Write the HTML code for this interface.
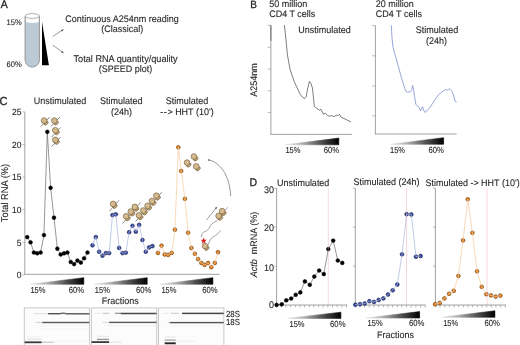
<!DOCTYPE html>
<html><head><meta charset="utf-8"><style>
html,body{margin:0;padding:0;background:#fff;width:520px;height:345px;overflow:hidden}
svg{display:block;filter:blur(0.25px)}
text{text-rendering:geometricPrecision;font-family:"Liberation Sans",sans-serif;fill:#262626;stroke:#262626;stroke-width:0.1px;stroke-linejoin:round}
</style></head><body>
<svg width="520" height="345" viewBox="0 0 520 345">
<defs><linearGradient id="g1" x1="0" y1="0" x2="1" y2="0">
<stop offset="0" stop-color="#e4e4e4"/><stop offset="0.3" stop-color="#b4b4b4"/><stop offset="0.65" stop-color="#555"/><stop offset="1" stop-color="#000"/></linearGradient></defs>
<rect width="520" height="345" fill="#fff"/>
<g transform="translate(0.8 7.7) scale(0.9434 1)"><text x="0" y="0" font-size="11.13" text-anchor="start" style="stroke-width:0.3px">A</text></g>
<g transform="translate(21.8 24.8) scale(0.9434 1)"><text x="0" y="0" font-size="8.06" text-anchor="end" fill="#333">15%</text></g>
<g transform="translate(21.8 67.0) scale(0.9434 1)"><text x="0" y="0" font-size="8.06" text-anchor="end" fill="#333">60%</text></g>
<path d="M25.2,16.2 L25.2,59.7 A7.1,7.3 0 0 0 39.4,59.7 L39.4,16.2" fill="#fff" stroke="#8c8c8c" stroke-width="0.7"/>
<path d="M25.5,22.0 Q32.3,24.2 39.1,22.0 L39.1,59.7 A6.8,7.0 0 0 1 25.5,59.7 Z" fill="#bccad5"/>
<path d="M25.2,16.2 L25.2,59.7 A7.1,7.3 0 0 0 39.4,59.7 L39.4,16.2" fill="none" stroke="#8c8c8c" stroke-width="0.7"/>
<ellipse cx="32.3" cy="16.0" rx="7.1" ry="2.4" fill="#fff" stroke="#8c8c8c" stroke-width="0.7"/>
<polygon points="42.0,21.8 42.0,65.3 48.9,65.3" fill="#000"/>
<line x1="52.7" y1="36.5" x2="63" y2="29.8" stroke="#555" stroke-width="0.6" />
<line x1="52.7" y1="45" x2="63" y2="52.5" stroke="#555" stroke-width="0.6" />
<polygon points="64.0,29.2 61.0,29.9 62.1,31.6" fill="#555"/>
<polygon points="64.0,53.1 62.1,50.9 61.0,52.6" fill="#555"/>
<g transform="translate(122.1 21.9) scale(0.9434 1)"><text x="0" y="0" font-size="9.54" text-anchor="middle" >Continuous A254nm reading</text></g>
<g transform="translate(122.2 32.1) scale(0.9434 1)"><text x="0" y="0" font-size="9.54" text-anchor="middle" >(Classical)</text></g>
<g transform="translate(125.6 61.9) scale(0.9434 1)"><text x="0" y="0" font-size="9.70" text-anchor="middle" >Total RNA quantity/quality</text></g>
<g transform="translate(125.6 72.3) scale(0.9434 1)"><text x="0" y="0" font-size="9.54" text-anchor="middle" >(SPEED plot)</text></g>
<g transform="translate(250.3 7.7) scale(0.9434 1)"><text x="0" y="0" font-size="10.60" text-anchor="start" style="stroke-width:0.3px">B</text></g>
<g transform="translate(269.2 6.7) scale(0.9434 1)"><text x="0" y="0" font-size="9.54" text-anchor="start" >50 million</text></g>
<g transform="translate(269.2 17.3) scale(0.9434 1)"><text x="0" y="0" font-size="9.54" text-anchor="start" >CD4 T cells</text></g>
<g transform="translate(375.8 6.7) scale(0.9434 1)"><text x="0" y="0" font-size="9.54" text-anchor="start" >20 million</text></g>
<g transform="translate(375.8 17.3) scale(0.9434 1)"><text x="0" y="0" font-size="9.54" text-anchor="start" >CD4 T cells</text></g>
<line x1="270.9" y1="25.2" x2="270.9" y2="134.4" stroke="#8a8a8a" stroke-width="0.8" />
<rect x="270.1" y="25.6" width="1.4" height="15.3" fill="#888"/>
<line x1="270.5" y1="134.4" x2="352" y2="134.4" stroke="#8a8a8a" stroke-width="0.8" />
<line x1="267.6" y1="25.3" x2="270.9" y2="25.3" stroke="#8a8a8a" stroke-width="0.6" />
<line x1="267.6" y1="47.2" x2="270.9" y2="47.2" stroke="#8a8a8a" stroke-width="0.6" />
<line x1="267.6" y1="69.0" x2="270.9" y2="69.0" stroke="#8a8a8a" stroke-width="0.6" />
<line x1="267.6" y1="90.8" x2="270.9" y2="90.8" stroke="#8a8a8a" stroke-width="0.6" />
<line x1="267.6" y1="112.4" x2="270.9" y2="112.4" stroke="#8a8a8a" stroke-width="0.6" />
<g transform="rotate(-90 257.4 80.1)"><g transform="translate(257.4 80.1) scale(0.9434 1)"><text x="0" y="0" font-size="9.54" text-anchor="middle" >A254nm</text></g></g>
<g transform="translate(298.3 32.8) scale(0.9434 1)"><text x="0" y="0" font-size="9.54" text-anchor="start" >Unstimulated</text></g>
<polyline points="284.4,25 286.0,40 287.4,54.8 290.2,69.9 294.2,81.5 296.5,86.5 300.3,94.6 302.5,97.2 304.6,98.5 306.2,96.5 307.8,88 309.4,81.3 311,83.5 312.4,88 313.4,97 314.3,106.3 317,108.6 319.6,110.2 320.9,109.2 322.2,111.8 323.5,114.1 325.4,113.5 327.5,115.5 329.3,116.1 331.8,115.7 333.5,116.5 334.8,116.1 336.9,115 338,115.6 339.3,114.3 340.9,117.1 345,119 348,120.5 351,121.8" fill="none" stroke="#444" stroke-width="0.7" stroke-linejoin="round"/>
<polygon points="285.4,144.8 338.8,138.1 338.8,144.8" fill="url(#g1)" stroke="url(#g1)" stroke-width="0.6" stroke-linejoin="round"/>
<text x="285.40000000000003" y="152.70000000000002" font-size="8.8" textLength="15.0" lengthAdjust="spacingAndGlyphs">15%</text>
<text x="323.8" y="152.70000000000002" font-size="8.8" textLength="15.4" lengthAdjust="spacingAndGlyphs">60%</text>
<line x1="375.4" y1="25.5" x2="375.4" y2="134.0" stroke="#8a8a8a" stroke-width="0.8" />
<line x1="375.0" y1="134.0" x2="456.6" y2="134.0" stroke="#8a8a8a" stroke-width="0.8" />
<line x1="372.2" y1="25.6" x2="375.4" y2="25.6" stroke="#8a8a8a" stroke-width="0.6" />
<line x1="372.2" y1="55.8" x2="375.4" y2="55.8" stroke="#8a8a8a" stroke-width="0.6" />
<line x1="372.2" y1="86.0" x2="375.4" y2="86.0" stroke="#8a8a8a" stroke-width="0.6" />
<line x1="372.2" y1="115.8" x2="375.4" y2="115.8" stroke="#8a8a8a" stroke-width="0.6" />
<g transform="translate(415.7 33.0) scale(0.9434 1)"><text x="0" y="0" font-size="9.54" text-anchor="start" >Stimulated</text></g>
<g transform="translate(436.6 44.0) scale(0.9434 1)"><text x="0" y="0" font-size="9.54" text-anchor="middle" >(24h)</text></g>
<polyline points="391.3,25.3 392.0,38 393.0,47.1 394.6,53.5 396.2,58.3 398.5,67 400.9,75.8 403.2,83.5 405.7,91.2 407.5,92.2 410.5,91.7 411.8,89.5 412.7,85.4 413.5,89 414.3,94.9 415.9,104.5 417.5,106 419.1,107.7 420.7,110.9 421.6,108 422.6,106.7 423.6,110 424.8,112.4 427,110.8 429.6,107.7 432.5,103.5 436,98.1 438.5,95 440.8,92.7 443,91.2 445.6,89.5 447.5,90.2 448.8,88.8 450.3,89.5 452,91.5 453.5,94.9 455.1,101.3 456.7,102.2" fill="none" stroke="#6f7fc8" stroke-width="0.7" stroke-linejoin="round"/>
<polygon points="390.9,144.3 443.6,137.7 443.6,144.3" fill="url(#g1)" stroke="url(#g1)" stroke-width="0.6" stroke-linejoin="round"/>
<text x="390.0" y="152.60000000000002" font-size="8.8" textLength="15.0" lengthAdjust="spacingAndGlyphs">15%</text>
<text x="428.5" y="152.60000000000002" font-size="8.8" textLength="15.4" lengthAdjust="spacingAndGlyphs">60%</text>
<g transform="translate(-0.5 104.5) scale(0.9434 1)"><text x="0" y="0" font-size="11.66" text-anchor="start" style="stroke-width:0.3px">C</text></g>
<g transform="translate(60.0 104.1) scale(0.9434 1)"><text x="0" y="0" font-size="9.54" text-anchor="middle" >Unstimulated</text></g>
<g transform="translate(121.3 104.4) scale(0.9434 1)"><text x="0" y="0" font-size="9.54" text-anchor="middle" >Stimulated</text></g>
<g transform="translate(121.6 114.5) scale(0.9434 1)"><text x="0" y="0" font-size="9.54" text-anchor="middle" >(24h)</text></g>
<g transform="translate(187.0 104.4) scale(0.9434 1)"><text x="0" y="0" font-size="9.54" text-anchor="middle" >Stimulated</text></g>
<g transform="translate(187.0 114.5) scale(0.9434 1)"><text x="0" y="0" font-size="9.54" text-anchor="middle" ><tspan letter-spacing="0.55">--</tspan>&gt; HHT (10')</text></g>
<line x1="24.8" y1="111.9" x2="24.8" y2="274.3" stroke="#8a8a8a" stroke-width="0.8" />
<line x1="24.4" y1="274.3" x2="219.5" y2="274.3" stroke="#8a8a8a" stroke-width="0.8" />
<line x1="22.6" y1="274.9" x2="24.8" y2="274.9" stroke="#8a8a8a" stroke-width="0.6" />
<g transform="translate(21.4 278.09999999999997) scale(0.9434 1)"><text x="0" y="0" font-size="9.01" text-anchor="end" >0</text></g>
<line x1="22.6" y1="242.29999999999998" x2="24.8" y2="242.29999999999998" stroke="#8a8a8a" stroke-width="0.6" />
<g transform="translate(21.4 245.49999999999997) scale(0.9434 1)"><text x="0" y="0" font-size="9.01" text-anchor="end" >5</text></g>
<line x1="22.6" y1="209.7" x2="24.8" y2="209.7" stroke="#8a8a8a" stroke-width="0.6" />
<g transform="translate(21.4 212.89999999999998) scale(0.9434 1)"><text x="0" y="0" font-size="9.01" text-anchor="end" >10</text></g>
<line x1="22.6" y1="177.09999999999997" x2="24.8" y2="177.09999999999997" stroke="#8a8a8a" stroke-width="0.6" />
<g transform="translate(21.4 180.29999999999995) scale(0.9434 1)"><text x="0" y="0" font-size="9.01" text-anchor="end" >15</text></g>
<line x1="22.6" y1="144.49999999999997" x2="24.8" y2="144.49999999999997" stroke="#8a8a8a" stroke-width="0.6" />
<g transform="translate(21.4 147.69999999999996) scale(0.9434 1)"><text x="0" y="0" font-size="9.01" text-anchor="end" >20</text></g>
<line x1="22.6" y1="111.89999999999998" x2="24.8" y2="111.89999999999998" stroke="#8a8a8a" stroke-width="0.6" />
<g transform="translate(21.4 115.09999999999998) scale(0.9434 1)"><text x="0" y="0" font-size="9.01" text-anchor="end" >25</text></g>
<g transform="rotate(-90 8.0 193.0)"><g transform="translate(8.0 193.0) scale(0.9434 1)"><text x="0" y="0" font-size="9.86" text-anchor="middle" >Total RNA (%)</text></g></g>
<polyline points="27.20,237.10 30.55,242.30 33.90,252.50 37.25,253.30 40.60,252.50 43.95,235.10 47.30,131.80 50.65,187.80 54.00,217.70 57.35,248.70 60.70,254.50 64.05,253.30 67.40,252.50 70.75,262.00 74.10,264.10 77.45,260.60 80.80,262.60 84.15,258.30 87.50,252.50" fill="none" stroke="#6a6a6a" stroke-width="0.7"/>
<circle cx="27.20" cy="237.10" r="1.85" fill="#000" stroke="#000" stroke-width="0.6"/>
<circle cx="30.55" cy="242.30" r="1.85" fill="#000" stroke="#000" stroke-width="0.6"/>
<circle cx="33.90" cy="252.50" r="1.85" fill="#000" stroke="#000" stroke-width="0.6"/>
<circle cx="37.25" cy="253.30" r="1.85" fill="#000" stroke="#000" stroke-width="0.6"/>
<circle cx="40.60" cy="252.50" r="1.85" fill="#000" stroke="#000" stroke-width="0.6"/>
<circle cx="43.95" cy="235.10" r="1.85" fill="#000" stroke="#000" stroke-width="0.6"/>
<circle cx="47.30" cy="131.80" r="1.85" fill="#000" stroke="#000" stroke-width="0.6"/>
<circle cx="50.65" cy="187.80" r="1.85" fill="#000" stroke="#000" stroke-width="0.6"/>
<circle cx="54.00" cy="217.70" r="1.85" fill="#000" stroke="#000" stroke-width="0.6"/>
<circle cx="57.35" cy="248.70" r="1.85" fill="#000" stroke="#000" stroke-width="0.6"/>
<circle cx="60.70" cy="254.50" r="1.85" fill="#000" stroke="#000" stroke-width="0.6"/>
<circle cx="64.05" cy="253.30" r="1.85" fill="#000" stroke="#000" stroke-width="0.6"/>
<circle cx="67.40" cy="252.50" r="1.85" fill="#000" stroke="#000" stroke-width="0.6"/>
<circle cx="70.75" cy="262.00" r="1.85" fill="#000" stroke="#000" stroke-width="0.6"/>
<circle cx="74.10" cy="264.10" r="1.85" fill="#000" stroke="#000" stroke-width="0.6"/>
<circle cx="77.45" cy="260.60" r="1.85" fill="#000" stroke="#000" stroke-width="0.6"/>
<circle cx="80.80" cy="262.60" r="1.85" fill="#000" stroke="#000" stroke-width="0.6"/>
<circle cx="84.15" cy="258.30" r="1.85" fill="#000" stroke="#000" stroke-width="0.6"/>
<circle cx="87.50" cy="252.50" r="1.85" fill="#000" stroke="#000" stroke-width="0.6"/>
<circle cx="92.50" cy="245.30" r="1.9" fill="#3a4a9c" stroke="#1a2256" stroke-width="0.6"/>
<circle cx="95.83" cy="237.10" r="1.9" fill="#3a4a9c" stroke="#1a2256" stroke-width="0.6"/>
<circle cx="99.16" cy="251.70" r="1.9" fill="#3a4a9c" stroke="#1a2256" stroke-width="0.6"/>
<circle cx="102.49" cy="255.70" r="1.9" fill="#3a4a9c" stroke="#1a2256" stroke-width="0.6"/>
<circle cx="105.82" cy="253.10" r="1.9" fill="#3a4a9c" stroke="#1a2256" stroke-width="0.6"/>
<circle cx="109.15" cy="253.10" r="1.9" fill="#3a4a9c" stroke="#1a2256" stroke-width="0.6"/>
<circle cx="112.48" cy="215.10" r="1.9" fill="#3a4a9c" stroke="#1a2256" stroke-width="0.6"/>
<circle cx="115.81" cy="214.30" r="1.9" fill="#3a4a9c" stroke="#1a2256" stroke-width="0.6"/>
<circle cx="119.14" cy="247.90" r="1.9" fill="#3a4a9c" stroke="#1a2256" stroke-width="0.6"/>
<circle cx="122.47" cy="253.10" r="1.9" fill="#3a4a9c" stroke="#1a2256" stroke-width="0.6"/>
<circle cx="125.80" cy="252.60" r="1.9" fill="#3a4a9c" stroke="#1a2256" stroke-width="0.6"/>
<circle cx="129.13" cy="232.20" r="1.9" fill="#3a4a9c" stroke="#1a2256" stroke-width="0.6"/>
<circle cx="132.46" cy="225.80" r="1.9" fill="#3a4a9c" stroke="#1a2256" stroke-width="0.6"/>
<circle cx="135.79" cy="231.70" r="1.9" fill="#3a4a9c" stroke="#1a2256" stroke-width="0.6"/>
<circle cx="139.12" cy="224.90" r="1.9" fill="#3a4a9c" stroke="#1a2256" stroke-width="0.6"/>
<circle cx="142.45" cy="240.00" r="1.9" fill="#3a4a9c" stroke="#1a2256" stroke-width="0.6"/>
<circle cx="145.78" cy="251.70" r="1.9" fill="#3a4a9c" stroke="#1a2256" stroke-width="0.6"/>
<circle cx="149.11" cy="247.40" r="1.9" fill="#3a4a9c" stroke="#1a2256" stroke-width="0.6"/>
<circle cx="152.44" cy="246.10" r="1.9" fill="#3a4a9c" stroke="#1a2256" stroke-width="0.6"/>
<polyline points="92.50,245.30 95.83,237.10 99.16,251.70 102.49,255.70 105.82,253.10 109.15,253.10 112.48,215.10 115.81,214.30 119.14,247.90 122.47,253.10 125.80,252.60 129.13,232.20 132.46,225.80 135.79,231.70 139.12,224.90 142.45,240.00 145.78,251.70 149.11,247.40 152.44,246.10" fill="none" stroke="#a9b6e0" stroke-width="0.7"/>
<circle cx="158.00" cy="252.90" r="1.9" fill="#e2801e" stroke="#6e4212" stroke-width="0.6"/>
<circle cx="161.50" cy="245.70" r="1.9" fill="#e2801e" stroke="#6e4212" stroke-width="0.6"/>
<circle cx="164.70" cy="254.50" r="1.9" fill="#e2801e" stroke="#6e4212" stroke-width="0.6"/>
<circle cx="168.20" cy="254.90" r="1.9" fill="#e2801e" stroke="#6e4212" stroke-width="0.6"/>
<circle cx="171.70" cy="252.90" r="1.9" fill="#e2801e" stroke="#6e4212" stroke-width="0.6"/>
<circle cx="174.90" cy="229.70" r="1.9" fill="#e2801e" stroke="#6e4212" stroke-width="0.6"/>
<circle cx="178.30" cy="147.30" r="1.9" fill="#e2801e" stroke="#6e4212" stroke-width="0.6"/>
<circle cx="181.20" cy="171.00" r="1.9" fill="#e2801e" stroke="#6e4212" stroke-width="0.6"/>
<circle cx="184.90" cy="198.80" r="1.9" fill="#e2801e" stroke="#6e4212" stroke-width="0.6"/>
<circle cx="188.10" cy="232.70" r="1.9" fill="#e2801e" stroke="#6e4212" stroke-width="0.6"/>
<circle cx="191.40" cy="248.00" r="1.9" fill="#e2801e" stroke="#6e4212" stroke-width="0.6"/>
<circle cx="194.90" cy="253.80" r="1.9" fill="#e2801e" stroke="#6e4212" stroke-width="0.6"/>
<circle cx="198.10" cy="259.10" r="1.9" fill="#e2801e" stroke="#6e4212" stroke-width="0.6"/>
<circle cx="201.40" cy="263.00" r="1.9" fill="#e2801e" stroke="#6e4212" stroke-width="0.6"/>
<circle cx="204.60" cy="264.90" r="1.9" fill="#e2801e" stroke="#6e4212" stroke-width="0.6"/>
<circle cx="208.10" cy="263.00" r="1.9" fill="#e2801e" stroke="#6e4212" stroke-width="0.6"/>
<circle cx="211.30" cy="267.20" r="1.9" fill="#e2801e" stroke="#6e4212" stroke-width="0.6"/>
<circle cx="214.80" cy="263.00" r="1.9" fill="#e2801e" stroke="#6e4212" stroke-width="0.6"/>
<circle cx="218.00" cy="252.20" r="1.9" fill="#e2801e" stroke="#6e4212" stroke-width="0.6"/>
<polyline points="158.00,252.90 161.50,245.70 164.70,254.50 168.20,254.90 171.70,252.90 174.90,229.70 178.30,147.30 181.20,171.00 184.90,198.80 188.10,232.70 191.40,248.00 194.90,253.80 198.10,259.10 201.40,263.00 204.60,264.90 208.10,263.00 211.30,267.20 214.80,263.00 218.00,252.20" fill="none" stroke="#f6c89c" stroke-width="0.7"/>
<polygon points="30.3,284.3 83.8,277.7 83.8,284.3" fill="url(#g1)" stroke="url(#g1)" stroke-width="0.6" stroke-linejoin="round"/>
<text x="30.400000000000002" y="292.5" font-size="8.8" textLength="15.0" lengthAdjust="spacingAndGlyphs">15%</text>
<text x="68.8" y="292.5" font-size="8.8" textLength="15.4" lengthAdjust="spacingAndGlyphs">60%</text>
<polygon points="94.1,284.3 147.2,277.7 147.2,284.3" fill="url(#g1)" stroke="url(#g1)" stroke-width="0.6" stroke-linejoin="round"/>
<text x="94.8" y="292.5" font-size="8.8" textLength="15.0" lengthAdjust="spacingAndGlyphs">15%</text>
<text x="135.9" y="292.5" font-size="8.8" textLength="15.4" lengthAdjust="spacingAndGlyphs">60%</text>
<polygon points="159.7,284.3 212.9,277.7 212.9,284.3" fill="url(#g1)" stroke="url(#g1)" stroke-width="0.6" stroke-linejoin="round"/>
<text x="161.4" y="292.5" font-size="8.8" textLength="15.0" lengthAdjust="spacingAndGlyphs">15%</text>
<text x="202.2" y="292.5" font-size="8.8" textLength="15.4" lengthAdjust="spacingAndGlyphs">60%</text>
<g transform="translate(120.3 303.6) scale(0.9434 1)"><text x="0" y="0" font-size="9.54" text-anchor="middle" >Fractions</text></g>
<line x1="40.6" y1="126.7" x2="49.7" y2="117.1" stroke="#3c3c3c" stroke-width="0.6" />
<line x1="50.8" y1="126.7" x2="59.9" y2="117.1" stroke="#3c3c3c" stroke-width="0.6" />
<line x1="51.6" y1="137.0" x2="60.7" y2="127.4" stroke="#3c3c3c" stroke-width="0.6" />
<line x1="51.6" y1="146.6" x2="60.7" y2="137.0" stroke="#3c3c3c" stroke-width="0.6" />
<ellipse cx="46.00" cy="123.00" rx="2.5" ry="1.6" transform="rotate(-38 46.00 123.00)" fill="#c9ab7a" stroke="#6a5636" stroke-width="0.6"/>
<circle cx="44.10" cy="120.60" r="2.85" fill="#d4ba8c" stroke="#6a5636" stroke-width="0.6"/>
<ellipse cx="56.20" cy="123.00" rx="2.5" ry="1.6" transform="rotate(-38 56.20 123.00)" fill="#c9ab7a" stroke="#6a5636" stroke-width="0.6"/>
<circle cx="54.30" cy="120.60" r="2.85" fill="#d4ba8c" stroke="#6a5636" stroke-width="0.6"/>
<ellipse cx="57.20" cy="132.70" rx="2.5" ry="1.6" transform="rotate(-38 57.20 132.70)" fill="#c9ab7a" stroke="#6a5636" stroke-width="0.6"/>
<circle cx="55.30" cy="130.30" r="2.85" fill="#d4ba8c" stroke="#6a5636" stroke-width="0.6"/>
<ellipse cx="57.20" cy="142.30" rx="2.5" ry="1.6" transform="rotate(-38 57.20 142.30)" fill="#c9ab7a" stroke="#6a5636" stroke-width="0.6"/>
<circle cx="55.30" cy="139.90" r="2.85" fill="#d4ba8c" stroke="#6a5636" stroke-width="0.6"/>
<line x1="109.4" y1="211.2" x2="118.9" y2="200.3" stroke="#3c3c3c" stroke-width="0.6" />
<ellipse cx="115.00" cy="206.30" rx="2.5" ry="1.6" transform="rotate(-38 115.00 206.30)" fill="#c9ab7a" stroke="#6a5636" stroke-width="0.6"/>
<circle cx="113.10" cy="203.90" r="2.85" fill="#d4ba8c" stroke="#6a5636" stroke-width="0.6"/>
<line x1="122.5" y1="223.5" x2="140.6" y2="202.5" stroke="#3c3c3c" stroke-width="0.6" />
<ellipse cx="128.00" cy="218.70" rx="2.5" ry="1.6" transform="rotate(-38 128.00 218.70)" fill="#c9ab7a" stroke="#6a5636" stroke-width="0.6"/>
<circle cx="126.10" cy="216.30" r="2.85" fill="#d4ba8c" stroke="#6a5636" stroke-width="0.6"/>
<ellipse cx="132.70" cy="214.00" rx="2.5" ry="1.6" transform="rotate(-38 132.70 214.00)" fill="#c9ab7a" stroke="#6a5636" stroke-width="0.6"/>
<circle cx="130.80" cy="211.60" r="2.85" fill="#d4ba8c" stroke="#6a5636" stroke-width="0.6"/>
<ellipse cx="136.70" cy="209.30" rx="2.5" ry="1.6" transform="rotate(-38 136.70 209.30)" fill="#c9ab7a" stroke="#6a5636" stroke-width="0.6"/>
<circle cx="134.80" cy="206.90" r="2.85" fill="#d4ba8c" stroke="#6a5636" stroke-width="0.6"/>
<line x1="135.6" y1="221.4" x2="161.7" y2="192.3" stroke="#3c3c3c" stroke-width="0.6" />
<ellipse cx="140.80" cy="217.70" rx="2.5" ry="1.6" transform="rotate(-38 140.80 217.70)" fill="#c9ab7a" stroke="#6a5636" stroke-width="0.6"/>
<circle cx="138.90" cy="215.30" r="2.85" fill="#d4ba8c" stroke="#6a5636" stroke-width="0.6"/>
<ellipse cx="145.20" cy="212.90" rx="2.5" ry="1.6" transform="rotate(-38 145.20 212.90)" fill="#c9ab7a" stroke="#6a5636" stroke-width="0.6"/>
<circle cx="143.30" cy="210.50" r="2.85" fill="#d4ba8c" stroke="#6a5636" stroke-width="0.6"/>
<ellipse cx="149.50" cy="208.20" rx="2.5" ry="1.6" transform="rotate(-38 149.50 208.20)" fill="#c9ab7a" stroke="#6a5636" stroke-width="0.6"/>
<circle cx="147.60" cy="205.80" r="2.85" fill="#d4ba8c" stroke="#6a5636" stroke-width="0.6"/>
<ellipse cx="153.90" cy="203.40" rx="2.5" ry="1.6" transform="rotate(-38 153.90 203.40)" fill="#c9ab7a" stroke="#6a5636" stroke-width="0.6"/>
<circle cx="152.00" cy="201.00" r="2.85" fill="#d4ba8c" stroke="#6a5636" stroke-width="0.6"/>
<ellipse cx="158.20" cy="198.10" rx="2.5" ry="1.6" transform="rotate(-38 158.20 198.10)" fill="#c9ab7a" stroke="#6a5636" stroke-width="0.6"/>
<circle cx="156.30" cy="195.70" r="2.85" fill="#d4ba8c" stroke="#6a5636" stroke-width="0.6"/>
<ellipse cx="195.80" cy="158.90" rx="2.5" ry="1.6" transform="rotate(-38 195.80 158.90)" fill="#c9ab7a" stroke="#6a5636" stroke-width="0.6"/>
<circle cx="193.90" cy="156.50" r="2.85" fill="#d4ba8c" stroke="#6a5636" stroke-width="0.6"/>
<ellipse cx="188.90" cy="165.00" rx="2.5" ry="1.6" transform="rotate(-38 188.90 165.00)" fill="#c9ab7a" stroke="#6a5636" stroke-width="0.6"/>
<circle cx="187.00" cy="162.60" r="2.85" fill="#d4ba8c" stroke="#6a5636" stroke-width="0.6"/>
<ellipse cx="198.10" cy="168.80" rx="2.5" ry="1.6" transform="rotate(-38 198.10 168.80)" fill="#c9ab7a" stroke="#6a5636" stroke-width="0.6"/>
<circle cx="196.20" cy="166.40" r="2.85" fill="#d4ba8c" stroke="#6a5636" stroke-width="0.6"/>
<path d="M208.9,160 C220,162 230,176 230.6,196" fill="none" stroke="#555" stroke-width="0.6"/>
<circle cx="208.9" cy="160" r="0.8" fill="#333"/>
<line x1="206.5" y1="219.9" x2="216.5" y2="207.6" stroke="#555" stroke-width="0.6" />
<polygon points="217.2,206.8 214.6,208.0 216.3,209.3" fill="#555"/>
<line x1="217.3" y1="220" x2="227.7" y2="207.2" stroke="#555" stroke-width="0.5" />
<ellipse cx="220.50" cy="218.30" rx="2.5" ry="1.6" transform="rotate(-38 220.50 218.30)" fill="#c9ab7a" stroke="#6a5636" stroke-width="0.6"/>
<circle cx="218.60" cy="215.90" r="2.85" fill="#d4ba8c" stroke="#6a5636" stroke-width="0.6"/>
<ellipse cx="224.00" cy="213.60" rx="2.5" ry="1.6" transform="rotate(-38 224.00 213.60)" fill="#c9ab7a" stroke="#6a5636" stroke-width="0.6"/>
<circle cx="222.10" cy="211.20" r="2.85" fill="#d4ba8c" stroke="#6a5636" stroke-width="0.6"/>
<path d="M201.2,237.2 C201.4,233.6 203,232.2 205,231.6 C207.8,230.9 208.9,228.4 210.4,225.8 C212,223.2 214,222.4 217.3,220.6" fill="none" stroke="#555" stroke-width="0.55"/>
<path d="M208.2,245.2 C209,242.2 210.5,239.2 212,237.6 C213.6,236 215.4,236.1 217,234.6 C218.6,233.1 219.2,232.2 220.6,230.4" fill="none" stroke="#555" stroke-width="0.55"/>
<ellipse cx="206.90" cy="248.40" rx="2.5" ry="1.6" transform="rotate(-38 206.90 248.40)" fill="#c9ab7a" stroke="#6a5636" stroke-width="0.6"/>
<circle cx="205.00" cy="246.00" r="2.85" fill="#d4ba8c" stroke="#6a5636" stroke-width="0.6"/>
<polygon points="203.70,237.60 204.52,239.67 206.74,239.81 205.03,241.23 205.58,243.39 203.70,242.20 201.82,243.39 202.37,241.23 200.66,239.81 202.88,239.67" fill="#dc1c1c"/>
<rect x="24.3" y="307.9" width="65.3" height="40" fill="#fcfcfc" stroke="#c4c4c4" stroke-width="0.9"/>
<rect x="91.4" y="307.9" width="65.4" height="40" fill="#fcfcfc" stroke="#c4c4c4" stroke-width="0.9"/>
<rect x="158.4" y="307.9" width="65.5" height="40" fill="#fcfcfc" stroke="#c4c4c4" stroke-width="0.9"/>
<rect x="33.6" y="313.20" width="14.50" height="1.0" fill="#dcdcdc"/>
<rect x="48.1" y="313.00" width="12.70" height="1.4" fill="#505050"/>
<rect x="60.8" y="312.55" width="4.60" height="1.5" fill="#6a6a6a"/>
<rect x="65.4" y="313.10" width="24.00" height="1.4" fill="#555"/>
<rect x="35.9" y="321.90" width="6.40" height="1.0" fill="#cfcfcf"/>
<rect x="42.3" y="321.80" width="47.10" height="1.4" fill="#585858"/>
<rect x="38" y="325.50" width="51.40" height="0.8" fill="#f0f0f0"/>
<rect x="40" y="328.90" width="49.40" height="0.8" fill="#f3f3f3"/>
<rect x="26.6" y="336.45" width="15.10" height="0.9" fill="#eeeeee"/>
<rect x="26.6" y="338.75" width="15.10" height="0.9" fill="#dddddd"/>
<rect x="24.6" y="341.40" width="17.10" height="1.8" fill="#3c3c3c"/>
<rect x="41.7" y="341.70" width="12.20" height="1.2" fill="#c8c8c8"/>
<rect x="53.9" y="340.80" width="35.50" height="0.8" fill="#efefef"/>
<rect x="94.6" y="312.85" width="7.00" height="0.9" fill="#e6e6e6"/>
<rect x="102.8" y="312.75" width="6.30" height="1.1" fill="#c4c4c4"/>
<rect x="114.9" y="312.70" width="5.80" height="1.2" fill="#8e8e8e"/>
<rect x="120.7" y="312.75" width="35.90" height="1.5" fill="#484848"/>
<rect x="102.8" y="321.90" width="5.80" height="1.0" fill="#d8d8d8"/>
<rect x="109.1" y="321.70" width="47.50" height="1.4" fill="#5a5a5a"/>
<rect x="104" y="325.20" width="52.60" height="0.8" fill="#eeeeee"/>
<rect x="97" y="335.80" width="12.10" height="1.0" fill="#e4e4e4"/>
<rect x="97" y="338.70" width="12.10" height="1.4" fill="#9a9a9a"/>
<rect x="91.6" y="341.20" width="17.50" height="1.8" fill="#3a3a3a"/>
<rect x="109.1" y="341.60" width="12.20" height="1.0" fill="#dedede"/>
<rect x="163.0" y="312.85" width="5.80" height="0.9" fill="#e6e6e6"/>
<rect x="171.0" y="312.75" width="8.20" height="1.1" fill="#cccccc"/>
<rect x="182.1" y="312.65" width="41.60" height="1.5" fill="#464646"/>
<rect x="167.6" y="322.10" width="2.30" height="1.0" fill="#d4d4d4"/>
<rect x="169.9" y="321.90" width="53.80" height="1.4" fill="#555555"/>
<rect x="172" y="325.50" width="51.70" height="0.8" fill="#f0f0f0"/>
<rect x="164.7" y="336.40" width="11.00" height="1.0" fill="#e6e6e6"/>
<rect x="164.7" y="339.40" width="11.00" height="1.4" fill="#a8a8a8"/>
<rect x="164.7" y="342.35" width="11.00" height="1.9" fill="#262626"/>
<rect x="175.7" y="340.70" width="19.60" height="1.0" fill="#eeeeee"/>
<text x="226.0" y="316.6" font-size="8.90" text-anchor="start" textLength="14" lengthAdjust="spacingAndGlyphs">28S</text>
<text x="226.0" y="325.4" font-size="8.90" text-anchor="start" textLength="14" lengthAdjust="spacingAndGlyphs">18S</text>
<g transform="translate(249.6 186.4) scale(0.9434 1)"><text x="0" y="0" font-size="11.13" text-anchor="start" style="stroke-width:0.3px">D</text></g>
<g transform="translate(276.9 185.8) scale(0.9434 1)"><text x="0" y="0" font-size="9.54" text-anchor="start" >Unstimulated</text></g>
<g transform="translate(353.5 185.4) scale(0.9434 1)"><text x="0" y="0" font-size="9.54" text-anchor="start" >Stimulated (24h)</text></g>
<g transform="translate(425.4 185.9) scale(0.9434 1)"><text x="0" y="0" font-size="9.54" text-anchor="start" >Stimulated -&gt; HHT (10')</text></g>
<g transform="rotate(-90 257.2 244.6)"><g transform="translate(257.2 244.6) scale(0.9434 1)"><text x="0" y="0" font-size="9.54" text-anchor="middle" ><tspan font-style="italic">Actb</tspan>&#160; mRNA (%)</text></g></g>
<line x1="276.6" y1="188.1" x2="276.6" y2="305" stroke="#8a8a8a" stroke-width="0.8" />
<line x1="276.20000000000005" y1="305" x2="347.2" y2="305" stroke="#8a8a8a" stroke-width="0.8" />
<line x1="274.40000000000003" y1="305.0" x2="276.6" y2="305.0" stroke="#8a8a8a" stroke-width="0.6" />
<g transform="translate(274.0 308.1) scale(0.9434 1)"><text x="0" y="0" font-size="9.54" text-anchor="end" >0</text></g>
<line x1="274.40000000000003" y1="266.07" x2="276.6" y2="266.07" stroke="#8a8a8a" stroke-width="0.6" />
<g transform="translate(274.0 270.87) scale(0.9434 1)"><text x="0" y="0" font-size="9.54" text-anchor="end" >10</text></g>
<line x1="274.40000000000003" y1="227.14" x2="276.6" y2="227.14" stroke="#8a8a8a" stroke-width="0.6" />
<g transform="translate(274.0 231.44) scale(0.9434 1)"><text x="0" y="0" font-size="9.54" text-anchor="end" >20</text></g>
<line x1="274.40000000000003" y1="188.21" x2="276.6" y2="188.21" stroke="#8a8a8a" stroke-width="0.6" />
<g transform="translate(274.0 193.11) scale(0.9434 1)"><text x="0" y="0" font-size="9.54" text-anchor="end" >30</text></g>
<line x1="276.6" y1="305" x2="276.6" y2="307.5" stroke="#8a8a8a" stroke-width="0.6" />
<line x1="281.26000000000005" y1="305" x2="281.26000000000005" y2="307.5" stroke="#8a8a8a" stroke-width="0.6" />
<line x1="285.92" y1="305" x2="285.92" y2="307.5" stroke="#8a8a8a" stroke-width="0.6" />
<line x1="290.58000000000004" y1="305" x2="290.58000000000004" y2="307.5" stroke="#8a8a8a" stroke-width="0.6" />
<line x1="295.24" y1="305" x2="295.24" y2="307.5" stroke="#8a8a8a" stroke-width="0.6" />
<line x1="299.90000000000003" y1="305" x2="299.90000000000003" y2="307.5" stroke="#8a8a8a" stroke-width="0.6" />
<line x1="304.56" y1="305" x2="304.56" y2="307.5" stroke="#8a8a8a" stroke-width="0.6" />
<line x1="309.22" y1="305" x2="309.22" y2="307.5" stroke="#8a8a8a" stroke-width="0.6" />
<line x1="313.88" y1="305" x2="313.88" y2="307.5" stroke="#8a8a8a" stroke-width="0.6" />
<line x1="318.54" y1="305" x2="318.54" y2="307.5" stroke="#8a8a8a" stroke-width="0.6" />
<line x1="323.20000000000005" y1="305" x2="323.20000000000005" y2="307.5" stroke="#8a8a8a" stroke-width="0.6" />
<line x1="327.86" y1="305" x2="327.86" y2="307.5" stroke="#8a8a8a" stroke-width="0.6" />
<line x1="332.52000000000004" y1="305" x2="332.52000000000004" y2="307.5" stroke="#8a8a8a" stroke-width="0.6" />
<line x1="337.18" y1="305" x2="337.18" y2="307.5" stroke="#8a8a8a" stroke-width="0.6" />
<line x1="341.84000000000003" y1="305" x2="341.84000000000003" y2="307.5" stroke="#8a8a8a" stroke-width="0.6" />
<line x1="346.5" y1="305" x2="346.5" y2="307.5" stroke="#8a8a8a" stroke-width="0.6" />
<line x1="355.3" y1="188.1" x2="355.3" y2="305" stroke="#8a8a8a" stroke-width="0.8" />
<line x1="354.90000000000003" y1="305" x2="425.6" y2="305" stroke="#8a8a8a" stroke-width="0.8" />
<line x1="353.1" y1="305.0" x2="355.3" y2="305.0" stroke="#8a8a8a" stroke-width="0.6" />
<line x1="353.1" y1="266.07" x2="355.3" y2="266.07" stroke="#8a8a8a" stroke-width="0.6" />
<line x1="353.1" y1="227.14" x2="355.3" y2="227.14" stroke="#8a8a8a" stroke-width="0.6" />
<line x1="353.1" y1="188.21" x2="355.3" y2="188.21" stroke="#8a8a8a" stroke-width="0.6" />
<line x1="355.3" y1="305" x2="355.3" y2="307.5" stroke="#8a8a8a" stroke-width="0.6" />
<line x1="359.96000000000004" y1="305" x2="359.96000000000004" y2="307.5" stroke="#8a8a8a" stroke-width="0.6" />
<line x1="364.62" y1="305" x2="364.62" y2="307.5" stroke="#8a8a8a" stroke-width="0.6" />
<line x1="369.28000000000003" y1="305" x2="369.28000000000003" y2="307.5" stroke="#8a8a8a" stroke-width="0.6" />
<line x1="373.94" y1="305" x2="373.94" y2="307.5" stroke="#8a8a8a" stroke-width="0.6" />
<line x1="378.6" y1="305" x2="378.6" y2="307.5" stroke="#8a8a8a" stroke-width="0.6" />
<line x1="383.26" y1="305" x2="383.26" y2="307.5" stroke="#8a8a8a" stroke-width="0.6" />
<line x1="387.92" y1="305" x2="387.92" y2="307.5" stroke="#8a8a8a" stroke-width="0.6" />
<line x1="392.58000000000004" y1="305" x2="392.58000000000004" y2="307.5" stroke="#8a8a8a" stroke-width="0.6" />
<line x1="397.24" y1="305" x2="397.24" y2="307.5" stroke="#8a8a8a" stroke-width="0.6" />
<line x1="401.90000000000003" y1="305" x2="401.90000000000003" y2="307.5" stroke="#8a8a8a" stroke-width="0.6" />
<line x1="406.56" y1="305" x2="406.56" y2="307.5" stroke="#8a8a8a" stroke-width="0.6" />
<line x1="411.22" y1="305" x2="411.22" y2="307.5" stroke="#8a8a8a" stroke-width="0.6" />
<line x1="415.88" y1="305" x2="415.88" y2="307.5" stroke="#8a8a8a" stroke-width="0.6" />
<line x1="420.54" y1="305" x2="420.54" y2="307.5" stroke="#8a8a8a" stroke-width="0.6" />
<line x1="425.20000000000005" y1="305" x2="425.20000000000005" y2="307.5" stroke="#8a8a8a" stroke-width="0.6" />
<line x1="435.4" y1="188.1" x2="435.4" y2="305" stroke="#8a8a8a" stroke-width="0.8" />
<line x1="435.0" y1="305" x2="506" y2="305" stroke="#8a8a8a" stroke-width="0.8" />
<line x1="433.2" y1="305.0" x2="435.4" y2="305.0" stroke="#8a8a8a" stroke-width="0.6" />
<line x1="433.2" y1="266.07" x2="435.4" y2="266.07" stroke="#8a8a8a" stroke-width="0.6" />
<line x1="433.2" y1="227.14" x2="435.4" y2="227.14" stroke="#8a8a8a" stroke-width="0.6" />
<line x1="433.2" y1="188.21" x2="435.4" y2="188.21" stroke="#8a8a8a" stroke-width="0.6" />
<line x1="435.4" y1="305" x2="435.4" y2="307.5" stroke="#8a8a8a" stroke-width="0.6" />
<line x1="440.06" y1="305" x2="440.06" y2="307.5" stroke="#8a8a8a" stroke-width="0.6" />
<line x1="444.71999999999997" y1="305" x2="444.71999999999997" y2="307.5" stroke="#8a8a8a" stroke-width="0.6" />
<line x1="449.38" y1="305" x2="449.38" y2="307.5" stroke="#8a8a8a" stroke-width="0.6" />
<line x1="454.03999999999996" y1="305" x2="454.03999999999996" y2="307.5" stroke="#8a8a8a" stroke-width="0.6" />
<line x1="458.7" y1="305" x2="458.7" y2="307.5" stroke="#8a8a8a" stroke-width="0.6" />
<line x1="463.35999999999996" y1="305" x2="463.35999999999996" y2="307.5" stroke="#8a8a8a" stroke-width="0.6" />
<line x1="468.02" y1="305" x2="468.02" y2="307.5" stroke="#8a8a8a" stroke-width="0.6" />
<line x1="472.67999999999995" y1="305" x2="472.67999999999995" y2="307.5" stroke="#8a8a8a" stroke-width="0.6" />
<line x1="477.34" y1="305" x2="477.34" y2="307.5" stroke="#8a8a8a" stroke-width="0.6" />
<line x1="482.0" y1="305" x2="482.0" y2="307.5" stroke="#8a8a8a" stroke-width="0.6" />
<line x1="486.65999999999997" y1="305" x2="486.65999999999997" y2="307.5" stroke="#8a8a8a" stroke-width="0.6" />
<line x1="491.32" y1="305" x2="491.32" y2="307.5" stroke="#8a8a8a" stroke-width="0.6" />
<line x1="495.97999999999996" y1="305" x2="495.97999999999996" y2="307.5" stroke="#8a8a8a" stroke-width="0.6" />
<line x1="500.64" y1="305" x2="500.64" y2="307.5" stroke="#8a8a8a" stroke-width="0.6" />
<line x1="505.29999999999995" y1="305" x2="505.29999999999995" y2="307.5" stroke="#8a8a8a" stroke-width="0.6" />
<polyline points="276.60,304.90 281.70,304.30 286.30,300.30 291.20,298.50 295.70,294.80 300.30,292.40 304.90,281.40 309.80,284.80 314.30,276.60 319.20,270.50 323.80,274.10 328.30,249.10 333.20,240.60 337.80,260.50 342.30,262.90" fill="none" stroke="#6a6a6a" stroke-width="0.7"/>
<circle cx="276.60" cy="304.90" r="1.85" fill="#000" stroke="#000" stroke-width="0.6"/>
<circle cx="281.70" cy="304.30" r="1.85" fill="#000" stroke="#000" stroke-width="0.6"/>
<circle cx="286.30" cy="300.30" r="1.85" fill="#000" stroke="#000" stroke-width="0.6"/>
<circle cx="291.20" cy="298.50" r="1.85" fill="#000" stroke="#000" stroke-width="0.6"/>
<circle cx="295.70" cy="294.80" r="1.85" fill="#000" stroke="#000" stroke-width="0.6"/>
<circle cx="300.30" cy="292.40" r="1.85" fill="#000" stroke="#000" stroke-width="0.6"/>
<circle cx="304.90" cy="281.40" r="1.85" fill="#000" stroke="#000" stroke-width="0.6"/>
<circle cx="309.80" cy="284.80" r="1.85" fill="#000" stroke="#000" stroke-width="0.6"/>
<circle cx="314.30" cy="276.60" r="1.85" fill="#000" stroke="#000" stroke-width="0.6"/>
<circle cx="319.20" cy="270.50" r="1.85" fill="#000" stroke="#000" stroke-width="0.6"/>
<circle cx="323.80" cy="274.10" r="1.85" fill="#000" stroke="#000" stroke-width="0.6"/>
<circle cx="328.30" cy="249.10" r="1.85" fill="#000" stroke="#000" stroke-width="0.6"/>
<circle cx="333.20" cy="240.60" r="1.85" fill="#000" stroke="#000" stroke-width="0.6"/>
<circle cx="337.80" cy="260.50" r="1.85" fill="#000" stroke="#000" stroke-width="0.6"/>
<circle cx="342.30" cy="262.90" r="1.85" fill="#000" stroke="#000" stroke-width="0.6"/>
<circle cx="355.40" cy="304.70" r="1.9" fill="#3a4a9c" stroke="#1a2256" stroke-width="0.6"/>
<circle cx="360.06" cy="304.20" r="1.9" fill="#3a4a9c" stroke="#1a2256" stroke-width="0.6"/>
<circle cx="364.72" cy="303.50" r="1.9" fill="#3a4a9c" stroke="#1a2256" stroke-width="0.6"/>
<circle cx="369.38" cy="301.20" r="1.9" fill="#3a4a9c" stroke="#1a2256" stroke-width="0.6"/>
<circle cx="374.04" cy="301.90" r="1.9" fill="#3a4a9c" stroke="#1a2256" stroke-width="0.6"/>
<circle cx="378.70" cy="300.00" r="1.9" fill="#3a4a9c" stroke="#1a2256" stroke-width="0.6"/>
<circle cx="383.36" cy="298.40" r="1.9" fill="#3a4a9c" stroke="#1a2256" stroke-width="0.6"/>
<circle cx="388.02" cy="294.50" r="1.9" fill="#3a4a9c" stroke="#1a2256" stroke-width="0.6"/>
<circle cx="392.68" cy="290.30" r="1.9" fill="#3a4a9c" stroke="#1a2256" stroke-width="0.6"/>
<circle cx="397.34" cy="284.50" r="1.9" fill="#3a4a9c" stroke="#1a2256" stroke-width="0.6"/>
<circle cx="402.00" cy="254.30" r="1.9" fill="#3a4a9c" stroke="#1a2256" stroke-width="0.6"/>
<circle cx="406.66" cy="214.20" r="1.9" fill="#3a4a9c" stroke="#1a2256" stroke-width="0.6"/>
<circle cx="411.32" cy="214.50" r="1.9" fill="#3a4a9c" stroke="#1a2256" stroke-width="0.6"/>
<circle cx="415.98" cy="256.70" r="1.9" fill="#3a4a9c" stroke="#1a2256" stroke-width="0.6"/>
<circle cx="420.64" cy="256.00" r="1.9" fill="#3a4a9c" stroke="#1a2256" stroke-width="0.6"/>
<polyline points="355.40,304.70 360.06,304.20 364.72,303.50 369.38,301.20 374.04,301.90 378.70,300.00 383.36,298.40 388.02,294.50 392.68,290.30 397.34,284.50 402.00,254.30 406.66,214.20 411.32,214.50 415.98,256.70 420.64,256.00" fill="none" stroke="#a9b6e0" stroke-width="0.7"/>
<circle cx="435.10" cy="304.20" r="1.9" fill="#e2801e" stroke="#6e4212" stroke-width="0.6"/>
<circle cx="439.76" cy="303.00" r="1.9" fill="#e2801e" stroke="#6e4212" stroke-width="0.6"/>
<circle cx="444.42" cy="298.40" r="1.9" fill="#e2801e" stroke="#6e4212" stroke-width="0.6"/>
<circle cx="449.08" cy="293.80" r="1.9" fill="#e2801e" stroke="#6e4212" stroke-width="0.6"/>
<circle cx="453.74" cy="290.80" r="1.9" fill="#e2801e" stroke="#6e4212" stroke-width="0.6"/>
<circle cx="458.40" cy="275.90" r="1.9" fill="#e2801e" stroke="#6e4212" stroke-width="0.6"/>
<circle cx="463.06" cy="240.40" r="1.9" fill="#e2801e" stroke="#6e4212" stroke-width="0.6"/>
<circle cx="467.72" cy="199.30" r="1.9" fill="#e2801e" stroke="#6e4212" stroke-width="0.6"/>
<circle cx="472.38" cy="232.80" r="1.9" fill="#e2801e" stroke="#6e4212" stroke-width="0.6"/>
<circle cx="477.04" cy="271.30" r="1.9" fill="#e2801e" stroke="#6e4212" stroke-width="0.6"/>
<circle cx="481.70" cy="286.80" r="1.9" fill="#e2801e" stroke="#6e4212" stroke-width="0.6"/>
<circle cx="486.36" cy="294.20" r="1.9" fill="#e2801e" stroke="#6e4212" stroke-width="0.6"/>
<circle cx="491.02" cy="295.40" r="1.9" fill="#e2801e" stroke="#6e4212" stroke-width="0.6"/>
<circle cx="495.68" cy="296.60" r="1.9" fill="#e2801e" stroke="#6e4212" stroke-width="0.6"/>
<circle cx="500.34" cy="295.60" r="1.9" fill="#e2801e" stroke="#6e4212" stroke-width="0.6"/>
<polyline points="435.10,304.20 439.76,303.00 444.42,298.40 449.08,293.80 453.74,290.80 458.40,275.90 463.06,240.40 467.72,199.30 472.38,232.80 477.04,271.30 481.70,286.80 486.36,294.20 491.02,295.40 495.68,296.60 500.34,295.60" fill="none" stroke="#f6c89c" stroke-width="0.7"/>
<line x1="328.3" y1="188.5" x2="328.3" y2="305" stroke="#f0a0aa" stroke-width="0.6" stroke-opacity="0.7"/>
<line x1="406.5" y1="188.5" x2="406.5" y2="305" stroke="#f0a0aa" stroke-width="0.6" stroke-opacity="0.7"/>
<line x1="487.0" y1="188.5" x2="487.0" y2="305" stroke="#f0a0aa" stroke-width="0.6" stroke-opacity="0.7"/>
<polygon points="287.4,318.4 340.9,312.2 340.9,318.4" fill="url(#g1)" stroke="url(#g1)" stroke-width="0.6" stroke-linejoin="round"/>
<text x="289.5" y="326.7" font-size="8.8" textLength="15.0" lengthAdjust="spacingAndGlyphs">15%</text>
<text x="330.1" y="326.7" font-size="8.8" textLength="15.4" lengthAdjust="spacingAndGlyphs">60%</text>
<polygon points="366.4,318.0 419.6,311.6 419.6,318.0" fill="url(#g1)" stroke="url(#g1)" stroke-width="0.6" stroke-linejoin="round"/>
<text x="367.6" y="326.2" font-size="8.8" textLength="15.0" lengthAdjust="spacingAndGlyphs">15%</text>
<text x="409.0" y="326.2" font-size="8.8" textLength="15.4" lengthAdjust="spacingAndGlyphs">60%</text>
<polygon points="441.5,317.3 494.9,310.8 494.9,317.3" fill="url(#g1)" stroke="url(#g1)" stroke-width="0.6" stroke-linejoin="round"/>
<text x="443.2" y="325.8" font-size="8.8" textLength="15.0" lengthAdjust="spacingAndGlyphs">15%</text>
<text x="484.5" y="325.8" font-size="8.8" textLength="15.4" lengthAdjust="spacingAndGlyphs">60%</text>
<g transform="translate(395.5 337.6) scale(0.9434 1)"><text x="0" y="0" font-size="9.54" text-anchor="middle" >Fractions</text></g>
</svg></body></html>
